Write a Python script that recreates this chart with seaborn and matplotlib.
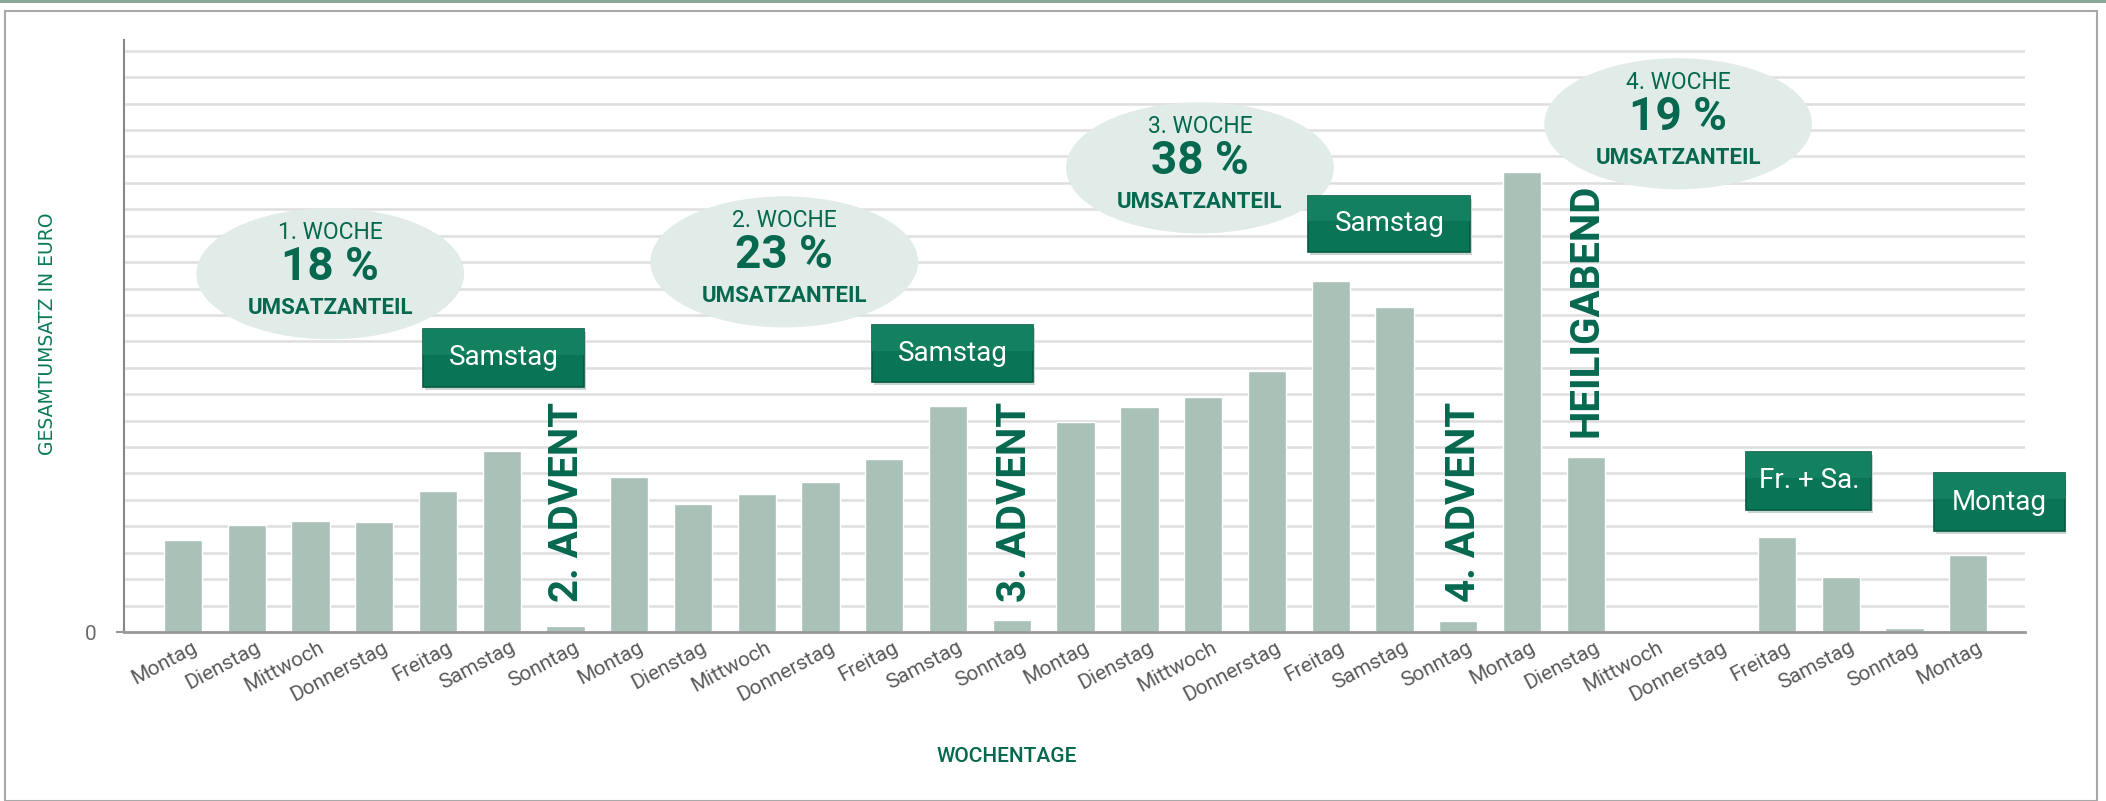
import numpy as np
import pandas as pd
import matplotlib.pyplot as plt
import seaborn as sns
from matplotlib.patches import Ellipse, Rectangle
import matplotlib.transforms as mtransforms

sns.set_theme(style="white")
plt.rcParams['font.family'] = ['Roboto', 'DejaVu Sans']

# Wochentage und Umsatz (Einheiten = Rasterlinien)
tage = ["Montag", "Dienstag", "Mittwoch", "Donnerstag", "Freitag", "Samstag", "Sonntag",
        "Montag", "Dienstag", "Mittwoch", "Donnerstag", "Freitag", "Samstag", "Sonntag",
        "Montag", "Dienstag", "Mittwoch", "Donnerstag", "Freitag", "Samstag", "Sonntag",
        "Montag", "Dienstag", "Mittwoch", "Donnerstag", "Freitag", "Samstag", "Sonntag",
        "Montag"]
umsatz = [3.49, 4.06, 4.21, 4.17, 5.33, 6.86, 0.23,
          5.86, 4.84, 5.22, 5.69, 6.56, 8.56, 0.47,
          7.94, 8.51, 8.88, 9.87, 13.27, 12.29, 0.43,
          17.40, 6.63, 0.0, 0.0, 3.58, 2.10, 0.14,
          2.91]

wochen = ["1. WOCHE", "2. WOCHE", "3. WOCHE", "4. WOCHE"]
anteile = ["18 %", "23 %", "38 %", "19 %"]
wochen_pos = [(2.31, 13.56), (9.43, 14.01), (15.95, 17.57), (23.45, 19.24)]

boxen = ["Samstag", "Samstag", "Samstag", "Fr. + Sa.", "Montag"]
boxen_pos = [(3.77, 9.28, 2.52, 2.19), (10.81, 9.47, 2.52, 2.15), (17.65, 14.39, 2.54, 2.12),
             (24.52, 4.62, 1.96, 2.20), (27.47, 3.82, 2.04, 2.20)]

senkrecht = ["2. ADVENT", "3. ADVENT", "4. ADVENT", "HEILIGABEND"]
senkrecht_pos = [(6.02, 1.14), (13.05, 1.14), (20.09, 1.14), (22.02, 7.38)]

gruen = "#05684f"
balken = "#aac1b8"

df = pd.DataFrame({"nr": range(len(umsatz)), "umsatz": umsatz})

fig = plt.figure(figsize=(21.06, 8.01), dpi=100)
ax = fig.add_axes([124/2106, 169/801, 1901/2106, 592/801])

sns.barplot(data=df, x="nr", y="umsatz", color=balken, saturation=1, width=0.6, ax=ax, zorder=2)

ax.set_xlim(-0.925, 28.89)
ax.set_ylim(0, 22.41)
ax.set_yticks([0])
ax.set_yticks(range(1, 23), minor=True)
ax.yaxis.grid(True, which="both", color="#dedede", lw=1.8, zorder=0)
ax.set_axisbelow(True)
ax.set_yticklabels(["0"], fontsize=15, color="#6a6a6a")
ax.tick_params(axis="y", which="major", length=6, width=1.5, color="#999999", left=True, pad=14)
ax.tick_params(axis="y", which="minor", length=0)
ax.tick_params(axis="x", length=0, pad=4)

ax.set_xticks(range(len(tage)))
ax.set_xticklabels(tage, rotation=28, ha="right", rotation_mode="anchor",
                   fontsize=15, color="#5a5a5a")
verschiebung = mtransforms.ScaledTranslation(8/100, 0, fig.dpi_scale_trans)
for lbl in ax.get_xticklabels():
    lbl.set_transform(lbl.get_transform() + verschiebung)

for s in ["top", "right"]:
    ax.spines[s].set_visible(False)
ax.spines["left"].set_color("#888888")
ax.spines["left"].set_linewidth(1.5)
ax.spines["bottom"].set_color("#999999")
ax.spines["bottom"].set_linewidth(2)

ax.set_xlabel("WOCHENTAGE", fontsize=15, color=gruen, fontweight="medium")
ax.set_ylabel("GESAMTUMSATZ IN EURO", fontsize=13.5, color="#0a7a5a", family="DejaVu Sans")
ax.xaxis.set_label_coords(0.4643, -0.195)
ax.yaxis.set_label_coords(-0.0352, 0.503)

# Wochen-Ellipsen
for w, a, (cx, cy) in zip(wochen, anteile, wochen_pos):
    ax.add_patch(Ellipse((cx, cy), 4.2, 4.96, facecolor="#e1ebe7", edgecolor="none", zorder=3))
    ax.annotate(w, (cx, cy), xytext=(0, 30), textcoords="offset points", ha="center", va="center",
                fontsize=16.5, color=gruen, zorder=4)
    ax.annotate(a, (cx, cy), xytext=(0, 5), textcoords="offset points", ha="center", va="center",
                fontsize=33, fontweight="bold", color=gruen, zorder=4)
    ax.annotate("UMSATZANTEIL", (cx, cy), xytext=(0, -24.5), textcoords="offset points",
                ha="center", va="center", fontsize=16, fontweight="bold", color=gruen, zorder=4)

# Gruene Schilder
for t, (x0, y0, bw, bh) in zip(boxen, boxen_pos):
    ax.add_patch(Rectangle((x0 + 0.03, y0 - 0.12), bw, bh, facecolor="#c9d3cf", edgecolor="none",
                           zorder=4, clip_on=False))
    ax.add_patch(Rectangle((x0, y0), bw, bh, facecolor="#0a7457", edgecolor="#065a43", lw=1.2,
                           zorder=5, clip_on=False))
    ax.add_patch(Rectangle((x0, y0 + bh * 0.55), bw, bh * 0.45, facecolor="#13805f", edgecolor="none",
                           zorder=5, clip_on=False))
    ax.text(x0 + bw / 2, y0 + bh / 2, t, ha="center", va="center", fontsize=20, color="white",
            zorder=6, clip_on=False)

# Senkrechte Beschriftungen
for t, (x, y) in zip(senkrecht, senkrecht_pos):
    ax.text(x, y, t, rotation=90, ha="center", va="bottom", fontsize=29, fontweight="bold",
            color=gruen, zorder=4)

# Rahmen
fig.patches.append(Rectangle((5/2106, 0), 2092/2106, 790/801, transform=fig.transFigure,
                             facecolor="none", edgecolor="#a8a8a8", lw=1.5, zorder=0))
fig.patches.append(Rectangle((0, 798/801), 1, 3/801, transform=fig.transFigure,
                             facecolor="#86a898", edgecolor="none", zorder=0))

fig.savefig("out.png", dpi=100)
